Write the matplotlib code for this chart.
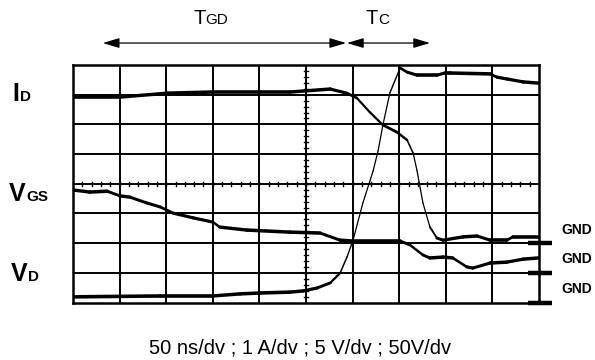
import numpy as np
import matplotlib.pyplot as plt
from matplotlib.collections import LineCollection

plt.rcParams['font.family'] = ['Liberation Sans', 'DejaVu Sans']

# scope traces, in divisions (x: 0..10, y: 0..8)
id_x = [0, 1.01, 2.02, 3.00, 4.01, 4.66, 5.52, 5.88, 6.09, 6.37, 6.65, 6.95, 7.17, 7.30,
        7.38, 7.51, 7.66, 7.81, 7.94, 8.37, 8.67, 8.95, 9.31, 9.44, 9.98]
id_y = [6.92, 6.92, 7.05, 7.09, 7.09, 7.09, 7.19, 7.05, 6.89, 6.41, 5.98, 5.74, 5.47, 5.03,
        4.46, 3.35, 2.54, 2.17, 2.10, 2.21, 2.24, 2.10, 2.10, 2.21, 2.21]

vgs_x = [0, 0.36, 0.73, 1.01, 1.22, 1.59, 1.87, 2.15, 2.58, 3.00, 3.15, 3.73, 4.66, 5.30,
         5.73, 6.01, 7.02, 7.23, 7.51, 7.66, 7.94, 8.15, 8.45, 8.58, 8.95, 9.31, 9.66, 9.98]
vgs_y = [3.79, 3.72, 3.75, 3.59, 3.55, 3.35, 3.22, 3.01, 2.85, 2.71, 2.54, 2.44, 2.37, 2.34,
         2.10, 2.07, 2.07, 1.94, 1.60, 1.50, 1.53, 1.50, 1.20, 1.16, 1.33, 1.36, 1.46, 1.50]

vd_x = [0, 1.87, 3.00, 3.58, 4.01, 4.66, 4.94, 5.24, 5.52, 5.73, 5.88, 6.01, 6.22, 6.44,
        6.55, 6.65, 6.80, 7.02, 7.17, 7.38, 7.81, 7.98, 8.09, 8.95, 9.10, 9.31, 9.66, 9.98]
vd_y = [0.19, 0.22, 0.22, 0.29, 0.32, 0.35, 0.39, 0.49, 0.66, 0.99, 1.53, 2.10, 3.35, 4.43,
        5.13, 5.98, 7.06, 7.90, 7.76, 7.66, 7.66, 7.73, 7.73, 7.70, 7.59, 7.53, 7.43, 7.39]

gnd_levels = [2, 1, 0]
gnd_labels = ['GND', 'GND', 'GND']
scale_text = '50 ns/dv ; 1 A/dv ; 5 V/dv ; 50V/dv'

W, H = 595, 360
fig = plt.figure(figsize=(W / 100, H / 100), dpi=100)
ax = fig.add_axes([73 / W, 1 - 302.5 / H, 466 / W, 237.5 / H])
ax.set_xlim(0, 10)
ax.set_ylim(0, 8)
ax.set_xticks([])
ax.set_yticks([])
for s in ax.spines.values():
    s.set_linewidth(1.8)

# graticule
for i in range(1, 10):
    ax.axvline(i, color='black', lw=1.4, zorder=1)
for j in range(1, 8):
    ax.axhline(j, color='black', lw=1.4, zorder=1)
# centre lines with minor ticks
for t in np.arange(0.2, 10, 0.2):
    ax.plot([t, t], [3.93, 4.07], color='black', lw=1.0, zorder=1)
for t in np.arange(0.2, 8, 0.2):
    ax.plot([4.95, 5.05], [t, t], color='black', lw=1.0, zorder=1)


def trace(xs, ys):
    xs = np.asarray(xs)
    ys = np.asarray(ys)
    pts = np.column_stack([xs, ys]).reshape(-1, 1, 2)
    segs = np.concatenate([pts[:-1], pts[1:]], axis=1)
    # fast edges show up thin on the scope
    slope = np.abs(np.diff(ys) * 29.7) / (np.abs(np.diff(xs) * 46.6) + 1e-9)
    lw = np.clip(2.6 / (1 + 0.6 * slope), 0.9, 2.6)
    ax.add_collection(LineCollection(segs, linewidths=lw, colors='black',
                                     capstyle='round', joinstyle='round', zorder=3))


trace(id_x, id_y)
trace(vgs_x, vgs_y)
trace(vd_x, vd_y)

# ground markers
for lvl, lab in zip(gnd_levels, gnd_labels):
    ax.plot([9.76, 10.28], [lvl, lvl], color='black', lw=3.2, clip_on=False,
            solid_capstyle='butt', zorder=4)
    ax.text(10.47, lvl + 0.45, lab, fontsize=10, fontweight='bold', va='center',
            ha='left', clip_on=False)

# timing arrows
arr = dict(arrowstyle='<|-|>,head_length=1.0,head_width=0.3', color='black', lw=0.9,
           shrinkA=0, shrinkB=0)
ax.annotate('', xy=(0.64, 8.74), xytext=(5.86, 8.74), arrowprops=arr, annotation_clip=False)
ax.annotate('', xy=(5.88, 8.74), xytext=(7.66, 8.74), arrowprops=arr, annotation_clip=False)


def px(x, y):
    return x / W, 1 - y / H


def label(x, y, big, small, size, ssize, weight, gap):
    fig.text(*px(x, y), big, fontsize=size, fontweight=weight, va='baseline', ha='left')
    fig.text(*px(x + gap, y), small, fontsize=ssize, fontweight=weight, va='baseline', ha='left')


label(193, 24, 'T', 'GD', 14.5, 11, 'normal', 12)
label(366, 24, 'T', 'C', 14.5, 11, 'normal', 12)
label(12, 101, 'I', 'D', 18, 11, 'bold', 8)
label(9, 201, 'V', 'GS', 18, 11, 'bold', 17)
label(11, 281, 'V', 'D', 18, 11, 'bold', 17)

fig.text(*px(300, 348), scale_text, fontsize=14.5, ha='center', va='center')

fig.savefig('out.png', dpi=100)
